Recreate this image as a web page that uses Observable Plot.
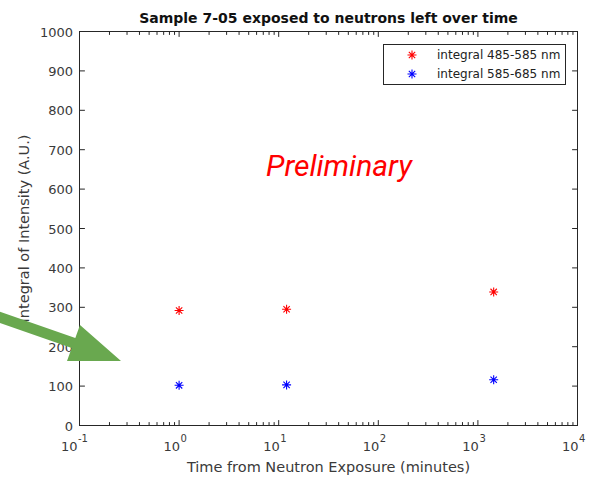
<!DOCTYPE html>
<html><head><meta charset="utf-8">
<script src="https://cdn.jsdelivr.net/npm/d3@7"></script>
<script src="https://cdn.jsdelivr.net/npm/@observablehq/plot@0.6"></script>
<style>
body{margin:0;background:#fff;}
#chart{position:relative;width:594px;height:477px;overflow:hidden;}
</style></head><body><div id="chart"></div>
<script>
const title = "Sample 7-05 exposed to neutrons left over time";
const xLabel = "Time from Neutron Exposure (minutes)";
const yLabel = "Integral of Intensity (A.U.)";
const seriesNames = ["integral 485-585 nm", "integral 585-685 nm"];
const seriesColors = ["#ff0000", "#0000ff"];
const times = [1, 12, 1440];
const integral485 = [292, 295, 339];
const integral585 = [102, 103, 116];
const xDecades = [0.1, 1, 10, 100, 1000, 10000];
const xExponents = ["-1", "0", "1", "2", "3", "4"];
const yTicks = [0, 100, 200, 300, 400, 500, 600, 700, 800, 900, 1000];
const annotation = "Preliminary";

const axisColor = "#262626";
const labelColor = "#3a3a3a";
const font = "DejaVu Sans";

const points = [
  ...times.map((t, i) => ({t, v: integral485[i], s: seriesNames[0]})),
  ...times.map((t, i) => ({t, v: integral585[i], s: seriesNames[1]}))
];
const xMinor = xDecades.slice(0, -1).flatMap(d => [2,3,4,5,6,7,8,9].map(k => d * k));
const xTickData = xDecades.map((v, i) => ({v, e: xExponents[i]}));
const xNeg = xTickData.filter(d => d.e.startsWith("-"));
const xPos = xTickData.filter(d => !d.e.startsWith("-"));

const star = {draw(ctx) {
  const r = 4.5, d = r * Math.SQRT1_2;
  ctx.moveTo(-r, 0); ctx.lineTo(r, 0);
  ctx.moveTo(0, -r); ctx.lineTo(0, r);
  ctx.moveTo(-d, -d); ctx.lineTo(d, d);
  ctx.moveTo(-d, d); ctx.lineTo(d, -d);
}};
const tickShape = {draw(ctx, l) { ctx.moveTo(0, 0); ctx.lineTo(0, -l); }};

const tickMarks = (data, opts, len) => Plot.vector(data, {...opts, length: len, shape: tickShape, anchor: "start", stroke: axisColor, strokeWidth: 1});

const chart = Plot.plot({
  width: 594, height: 477,
  marginLeft: 79, marginRight: 17, marginTop: 31, marginBottom: 52,
  style: {fontFamily: font, background: "#fff"},
  x: {type: "log", domain: [0.1, 10000], axis: null},
  y: {domain: [0, 1000], axis: null},
  color: {domain: seriesNames, range: seriesColors},
  marks: [
    Plot.frame({stroke: axisColor, strokeWidth: 1}),
    tickMarks(xDecades, {x: d => d, frameAnchor: "bottom", rotate: 0}, 5),
    tickMarks(xMinor, {x: d => d, frameAnchor: "bottom", rotate: 0}, 3),
    tickMarks(xDecades, {x: d => d, frameAnchor: "top", rotate: 180}, 5),
    tickMarks(xMinor, {x: d => d, frameAnchor: "top", rotate: 180}, 3),
    tickMarks(yTicks, {y: d => d, frameAnchor: "left", rotate: 90}, 5),
    tickMarks(yTicks, {y: d => d, frameAnchor: "right", rotate: -90}, 5),
    Plot.text(yTicks, {y: d => d, frameAnchor: "left", dx: -6.5, dy: 1, textAnchor: "end", text: d => String(d), fontSize: 13, fill: labelColor}),
    Plot.text(xNeg, {x: "v", text: () => "10", frameAnchor: "bottom", dy: 25, dx: -2, textAnchor: "end", fontSize: 13, fill: labelColor}),
    Plot.text(xNeg, {x: "v", text: "e", frameAnchor: "bottom", dy: 16, dx: -1.5, textAnchor: "start", fontSize: 10, fill: labelColor}),
    Plot.text(xPos, {x: "v", text: () => "10", frameAnchor: "bottom", dy: 25, dx: 1, textAnchor: "end", fontSize: 13, fill: labelColor}),
    Plot.text(xPos, {x: "v", text: "e", frameAnchor: "bottom", dy: 16, dx: 1.5, textAnchor: "start", fontSize: 10, fill: labelColor}),
    Plot.text([xLabel], {text: d => d, frameAnchor: "bottom", textAnchor: "middle", dy: 46, fontSize: 14.5, fill: labelColor}),
    Plot.text([yLabel], {text: d => d, frameAnchor: "left", textAnchor: "middle", dx: -55, rotate: -90, fontSize: 14.5, fill: labelColor}),
    Plot.text([title], {text: d => d, frameAnchor: "top", textAnchor: "middle", dy: -18, fontSize: 14, fontWeight: "bold", fill: "#111"}),
    Plot.dot(points, {x: "t", y: "v", stroke: "s", symbol: star, fill: "none", strokeWidth: 1.1})
  ]
});
document.getElementById("chart").appendChild(chart);

// Legend, annotation text and arrow overlays
const svg = d3.select(chart);
const lg = svg.append("g").attr("text-anchor", "start");
lg.append("rect").attr("x", 383.5).attr("y", 44.5).attr("width", 182).attr("height", 40)
  .attr("fill", "#fff").attr("stroke", axisColor).attr("stroke-width", 1);
seriesNames.forEach((name, i) => {
  const cy = 55 + i * 19;
  lg.append("path").attr("d", d3.symbol(star)()).attr("transform", `translate(412,${cy})`)
    .attr("fill", "none").attr("stroke", seriesColors[i]).attr("stroke-width", 1.1);
  lg.append("text").attr("x", 437).attr("y", cy).attr("dy", "0.35em").attr("text-anchor", "start")
    .attr("font-family", font).attr("font-size", 12).attr("fill", "#222").text(name);
});
svg.append("text").attr("x", 339).attr("y", 176).attr("text-anchor", "middle")
  .attr("font-family", "Roboto").attr("font-style", "italic").attr("font-size", 30)
  .attr("fill", "#ff0000").text(annotation);
svg.append("polygon")
  .attr("points", "-10,308.2 75.3,338 80,325 121,361 67,361 71.7,348 -10,319.6")
  .attr("fill", "#69a84f");
</script></body></html>
